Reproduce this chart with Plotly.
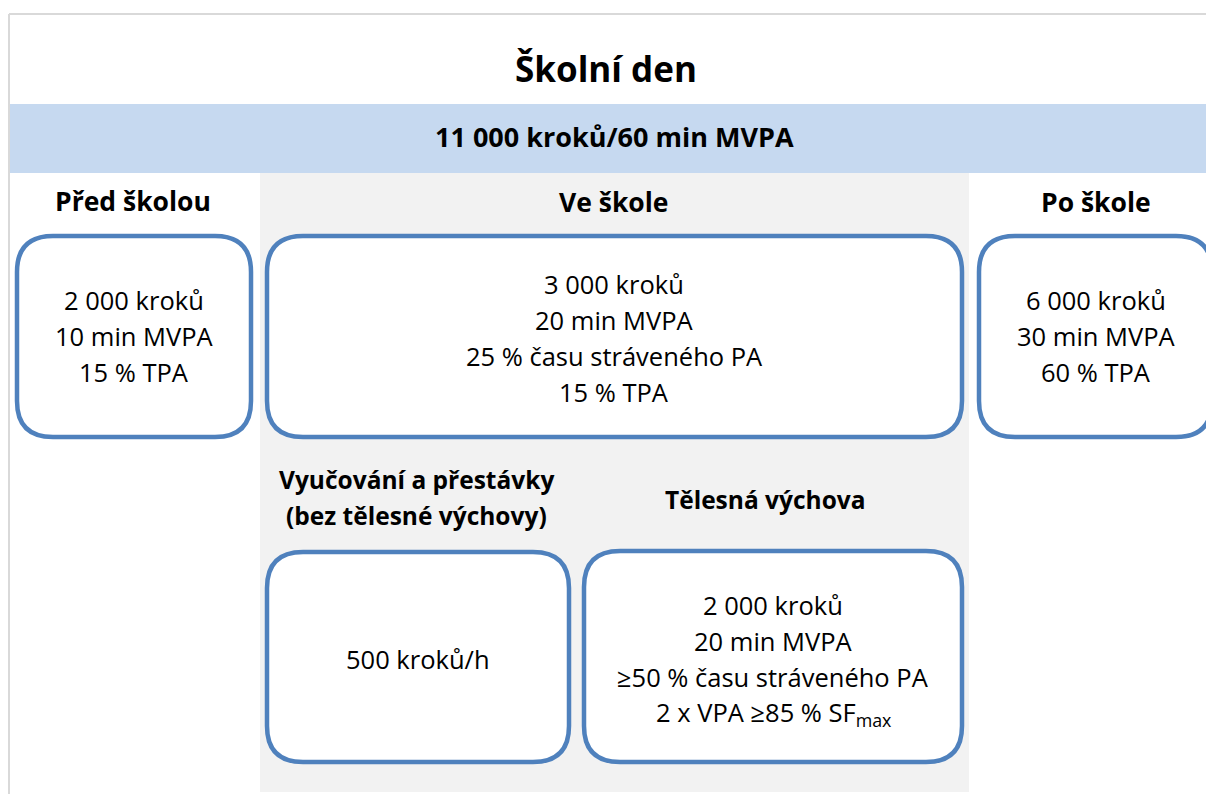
import plotly.graph_objects as go

# ---- content ----
title = "Školní den"
goal = "11 000 kroků/60 min MVPA"
section_titles = ["Před školou", "Ve škole", "Po škole"]
before_lines = ["2 000 kroků", "10 min MVPA", "15 % TPA"]
school_lines = ["3 000 kroků", "20 min MVPA", "25 % času stráveného PA", "15 % TPA"]
after_lines = ["6 000 kroků", "30 min MVPA", "60 % TPA"]
lessons_title = ["Vyučování a přestávky", "(bez tělesné výchovy)"]
pe_title = ["Tělesná výchova"]
lessons_lines = ["500 kroků/h"]
pe_lines = ["2 000 kroků", "20 min MVPA", "≥50 % času stráveného PA", "2 x VPA ≥85 % SF<sub>max</sub>"]

# ---- layout constants (pixels, page coordinates) ----
W, H = 1206, 794
FONT = "Open Sans"
BLUE = "#4F81BD"
LINE_H = 36
REG = 25.5
SECTION = 26.5
SUBHEAD = 24.5


def rrect(x0, y0, x1, y1, r):
    return (f"M {x0+r},{y0} L {x1-r},{y0} Q {x1},{y0} {x1},{y0+r} "
            f"L {x1},{y1-r} Q {x1},{y1} {x1-r},{y1} L {x0+r},{y1} "
            f"Q {x0},{y1} {x0},{y1-r} L {x0},{y0+r} Q {x0},{y0} {x0+r},{y0} Z")


fig = go.Figure()

shapes = []
shapes.append(dict(type="line", x0=9, y0=14, x1=W + 10, y1=14, line=dict(color="#D9D9D9", width=2)))
shapes.append(dict(type="line", x0=9, y0=14, x1=9, y1=H + 10, line=dict(color="#D9D9D9", width=2)))
shapes.append(dict(type="rect", x0=10, y0=104, x1=W + 10, y1=173, fillcolor="#C6D9F0", line=dict(width=0)))
shapes.append(dict(type="rect", x0=260, y0=173, x1=969, y1=H - 2, fillcolor="#F2F2F2", line=dict(width=0)))

boxes = [
    (17, 236, 251, 437),
    (267, 236, 962, 437),
    (979, 236, 1212, 437),
    (267, 552, 569, 762),
    (584, 551, 962, 762),
]
for (x0, y0, x1, y1) in boxes:
    shapes.append(dict(type="path", path=rrect(x0, y0, x1, y1, 36),
                       fillcolor="white", line=dict(color=BLUE, width=4.5)))

annotations = []


def txt(x, y, s, size, bold=False):
    annotations.append(dict(x=x, y=y, xref="x", yref="y", text=(f"<b>{s}</b>" if bold else s),
                            showarrow=False, xanchor="center", yanchor="middle",
                            font=dict(family=FONT, size=size, color="black")))


def block(x, y_first, lines, size, bold=False):
    for i, s in enumerate(lines):
        txt(x, y_first + i * LINE_H, s, size, bold)


txt(606, 68, title, 35, True)
txt(614, 136, goal, 27, True)
txt(133, 201, section_titles[0], SECTION, True)
txt(614, 202, section_titles[1], SECTION, True)
txt(1096, 202, section_titles[2], SECTION, True)

block(134, 300, before_lines, REG)
block(614, 284, school_lines, REG)
block(1096, 300, after_lines, REG)
block(416, 479, lessons_title, SUBHEAD, True)
block(765, 499, pe_title, SUBHEAD, True)
block(418, 659, lessons_lines, REG)
block(773, 605, pe_lines, REG)

fig.update_layout(
    width=W, height=H, margin=dict(l=0, r=0, t=0, b=0),
    paper_bgcolor="white", plot_bgcolor="white",
    xaxis=dict(range=[0, W], visible=False, fixedrange=True),
    yaxis=dict(range=[H, 0], visible=False, fixedrange=True),
    shapes=shapes, annotations=annotations, showlegend=False,
)
fig.write_html("out.html", config={"displayModeBar": False, "staticPlot": True},
               post_script="document.body.style.margin='0';document.body.style.overflow='hidden';")
